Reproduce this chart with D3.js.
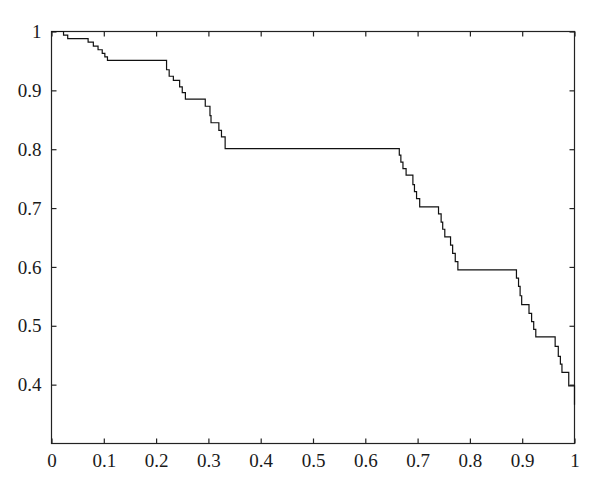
<!DOCTYPE html>
<html>
<head>
<meta charset="utf-8">
<script src="https://cdn.jsdelivr.net/npm/d3@7"></script>
<style>
  html, body { margin: 0; padding: 0; background: #fff; }
  svg { display: block; }
</style>
</head>
<body>
<svg id="chart" width="600" height="494"></svg>
<script>
// Step curve: at each time, value drops to the given level
const times = [0, 0.023, 0.031, 0.070, 0.080, 0.089, 0.097, 0.102, 0.107,
  0.220, 0.225, 0.233, 0.245, 0.250, 0.256,
  0.294, 0.303, 0.305, 0.320, 0.325, 0.332,
  0.665, 0.668, 0.672, 0.678,
  0.691, 0.694, 0.698, 0.704,
  0.740, 0.745, 0.748, 0.752,
  0.763, 0.767, 0.772, 0.777,
  0.889, 0.893, 0.896, 0.899,
  0.913, 0.918, 0.922, 0.926,
  0.963, 0.969, 0.973, 0.976,
  0.989, 1.0];
const levels = [1.0, 0.994, 0.988, 0.982, 0.975, 0.969, 0.963, 0.957, 0.951,
  0.935, 0.924, 0.917, 0.906, 0.896, 0.885,
  0.873, 0.857, 0.845, 0.832, 0.821, 0.801,
  0.790, 0.778, 0.767, 0.756,
  0.740, 0.728, 0.716, 0.702,
  0.690, 0.676, 0.664, 0.651,
  0.637, 0.623, 0.609, 0.595,
  0.581, 0.567, 0.551, 0.536,
  0.521, 0.507, 0.494, 0.481,
  0.465, 0.448, 0.435, 0.421,
  0.398, 0.366];
const xTicks = [0, 0.1, 0.2, 0.3, 0.4, 0.5, 0.6, 0.7, 0.8, 0.9, 1];
const yTicks = [0.4, 0.5, 0.6, 0.7, 0.8, 0.9, 1];

const svg = d3.select("#chart");
const mL = 51.5, mR = 574.5, mT = 31.5, mB = 443.5;
const x = d3.scaleLinear().domain([0, 1]).range([mL, mR]);
const y = d3.scaleLinear().domain([0.3, 1]).range([mB, mT]);

const fmt = d => d === 0 ? "0" : d === 1 ? "1" : d3.format(".1f")(d);

// frame
svg.append("rect").attr("x", mL).attr("y", mT)
  .attr("width", mR - mL).attr("height", mB - mT)
  .attr("fill", "none").attr("stroke", "#222").attr("stroke-width", 1.2);

const gB = svg.append("g").attr("transform", `translate(0,${mB})`)
  .call(d3.axisBottom(x).tickValues(xTicks).tickFormat(fmt).tickSizeInner(-5).tickSizeOuter(0).tickPadding(10));
const gT = svg.append("g").attr("transform", `translate(0,${mT})`)
  .call(d3.axisTop(x).tickValues(xTicks).tickFormat("").tickSizeInner(-5).tickSizeOuter(0));
const gL = svg.append("g").attr("transform", `translate(${mL},0)`)
  .call(d3.axisLeft(y).tickValues(yTicks).tickFormat(fmt).tickSizeInner(-5).tickSizeOuter(0).tickPadding(10));
const gR = svg.append("g").attr("transform", `translate(${mR},0)`)
  .call(d3.axisRight(y).tickValues(yTicks).tickFormat("").tickSizeInner(-5).tickSizeOuter(0));
[gB, gT, gL, gR].forEach(g => {
  g.select(".domain").remove();
  g.attr("font-family", "'Liberation Serif', 'Times New Roman', serif").attr("font-size", 19);
  g.selectAll(".tick line").attr("stroke", "#222").attr("stroke-width", 1.2);
  g.selectAll(".tick text").attr("fill", "#1a1a1a");
});

// step curve
const pts = times.map((t, i) => [t, levels[i]]);
const line = d3.line().x(d => x(d[0])).y(d => y(d[1])).curve(d3.curveStepAfter);
svg.append("path").datum(pts).attr("d", line)
  .attr("fill", "none").attr("stroke", "#111").attr("stroke-width", 1.2);
</script>
</body>
</html>
